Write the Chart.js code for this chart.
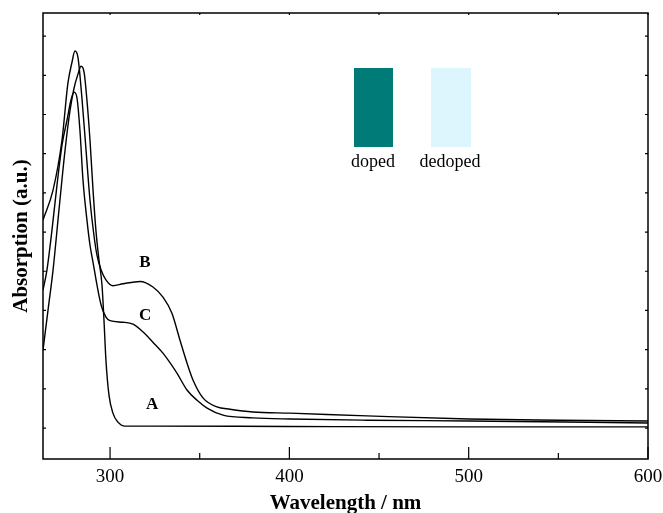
<!DOCTYPE html>
<html>
<head>
<meta charset="utf-8">
<script src="https://cdn.jsdelivr.net/npm/chart.js@4.4.0/dist/chart.umd.min.js"></script>
<style>
  html, body { margin: 0; padding: 0; background: #fff; }
  #wrap { width: 663px; height: 513px; }
</style>
</head>
<body>
<div id="wrap"><canvas id="uvChart" width="663" height="513"></canvas></div>
<script>
// UV-vis spectra, absorbance in arbitrary units
const xTicks = [300, 400, 500, 600];
const xMinorTicks = [350, 450, 550];

const waveA = [262.6, 265.4, 268.2, 271.5, 274.9, 277.7, 279.9, 282.1, 283.8, 285.5, 287.1, 288.8, 290.5, 292.1, 293.8, 295.5, 296.6, 297.7, 299.4, 301.6, 304.4, 308.3, 322.3, 400, 500, 600];
const absA  = [1.99, 3.01, 4.03, 5.56, 7.09, 8.11, 8.67, 9.03, 9.23, 9.08, 8.37, 7.35, 6.07, 5.05, 4.29, 3.65, 2.76, 1.73, 0.84, 0.38, 0.15, 0.05, 0.05, 0.04, 0.03, 0.03];

const waveB = [262.6, 268.2, 273.2, 276.5, 278.8, 280.4, 282.1, 284.4, 286.6, 288.8, 291.0, 292.7, 295.0, 297.7, 301.6, 307.2, 316.7, 323.9, 329.5, 334.5, 339.0, 342.9, 346.3, 351.8, 359.6, 366.9, 379.7, 400.3, 443.3, 500, 551, 600];
const absB  = [5.31, 6.07, 7.35, 8.80, 9.34, 9.62, 9.46, 8.37, 7.09, 5.82, 4.92, 4.41, 4.03, 3.78, 3.63, 3.68, 3.74, 3.60, 3.34, 2.93, 2.24, 1.66, 1.22, 0.77, 0.54, 0.48, 0.41, 0.38, 0.31, 0.23, 0.20, 0.18];

const waveC = [262.6, 264.8, 267.6, 270.4, 273.2, 276.0, 278.2, 279.9, 281.5, 283.2, 284.9, 287.1, 288.8, 290.5, 292.7, 295.0, 297.7, 300, 307.2, 312.8, 318.4, 323.9, 329.5, 337.3, 342.9, 348.5, 354.1, 363.0, 379.7, 400.3, 443.3, 500, 600];
const absC  = [3.52, 4.03, 5.05, 6.20, 7.22, 7.86, 8.37, 8.57, 8.44, 7.60, 6.33, 5.31, 4.67, 4.23, 3.65, 3.14, 2.83, 2.74, 2.70, 2.65, 2.45, 2.19, 1.91, 1.40, 0.97, 0.71, 0.51, 0.33, 0.26, 0.23, 0.20, 0.18, 0.13];

// curve labels, placed in data coordinates
const curveNames = ['B', 'C', 'A'];
const curveNameX = [319.5, 319.5, 323.4];
const curveNameY = [4.23, 2.88, 0.59];

const toPoints = (xs, ys) => xs.map((x, i) => ({ x: x, y: ys[i] }));

const serif = '"Liberation Serif", "DejaVu Serif", serif';

const lineStyle = {
  borderColor: '#000',
  borderWidth: 1.4,
  pointRadius: 0,
  fill: false,
  cubicInterpolationMode: 'monotone'
};

// frame, inward ticks, curve letters and the colour swatches
const decorations = {
  id: 'decorations',
  afterDatasetsDraw(chart) {
    const { ctx, chartArea: a, scales } = chart;
    const xs = scales.x, ys = scales.y;
    ctx.save();
    ctx.strokeStyle = '#000';
    ctx.lineWidth = 1.5;
    ctx.strokeRect(a.left, a.top, a.right - a.left, a.bottom - a.top);

    ctx.lineWidth = 1.2;
    ctx.beginPath();
    xTicks.forEach(v => {
      const px = xs.getPixelForValue(v);
      ctx.moveTo(px, a.bottom); ctx.lineTo(px, a.bottom - 12);
      ctx.moveTo(px, a.top); ctx.lineTo(px, a.top + 2);
    });
    xMinorTicks.forEach(v => {
      const px = xs.getPixelForValue(v);
      ctx.moveTo(px, a.bottom); ctx.lineTo(px, a.bottom - 6);
      ctx.moveTo(px, a.top); ctx.lineTo(px, a.top + 2);
    });
    for (let v = 0; v <= 10; v++) {
      const py = ys.getPixelForValue(v);
      ctx.moveTo(a.left, py); ctx.lineTo(a.left + 3, py);
      ctx.moveTo(a.right, py); ctx.lineTo(a.right - 3, py);
    }
    ctx.stroke();

    ctx.fillStyle = '#000';
    ctx.font = 'bold 17px ' + serif;
    ctx.textAlign = 'center';
    ctx.textBaseline = 'middle';
    curveNames.forEach((n, i) => {
      ctx.fillText(n, xs.getPixelForValue(curveNameX[i]), ys.getPixelForValue(curveNameY[i]));
    });

    ctx.fillStyle = '#007b78';
    ctx.fillRect(354, 68, 39, 79);
    ctx.fillStyle = '#ddf5fc';
    ctx.fillRect(431, 68, 40, 79);
    ctx.fillStyle = '#000';
    ctx.font = '18px ' + serif;
    ctx.fillText('doped', 373, 162);
    ctx.fillText('dedoped', 450, 162);
    ctx.restore();
  }
};

new Chart(document.getElementById('uvChart'), {
  type: 'line',
  data: {
    datasets: [
      Object.assign({ label: 'A', data: toPoints(waveA, absA) }, lineStyle),
      Object.assign({ label: 'B', data: toPoints(waveB, absB) }, lineStyle),
      Object.assign({ label: 'C', data: toPoints(waveC, absC) }, lineStyle)
    ]
  },
  options: {
    responsive: false,
    animation: false,
    layout: { padding: { left: 0, right: 15, top: 13, bottom: 0 } },
    plugins: { legend: { display: false }, tooltip: { enabled: false } },
    scales: {
      x: {
        type: 'linear',
        min: 262.6,
        max: 600,
        afterBuildTicks: (s) => { s.ticks = xTicks.map(v => ({ value: v })); },
        afterFit: (s) => { s.height = 54; },
        grid: { display: false },
        border: { display: false },
        ticks: { color: '#000', font: { family: serif, size: 19 }, padding: -1, maxRotation: 0 },
        title: {
          display: true,
          text: 'Wavelength / nm',
          color: '#000',
          font: { family: serif, size: 21, weight: 'bold' },
          padding: { top: -3, bottom: -3 }
        }
      },
      y: {
        type: 'linear',
        min: -0.79,
        max: 10.59,
        afterFit: (s) => { s.width = 43; },
        grid: { display: false },
        border: { display: false },
        ticks: { display: false },
        title: {
          display: true,
          text: 'Absorption (a.u.)',
          color: '#000',
          font: { family: serif, size: 21, weight: 'bold' },
          padding: { top: 9, bottom: 0 }
        }
      }
    }
  },
  plugins: [decorations]
});
</script>
</body>
</html>
